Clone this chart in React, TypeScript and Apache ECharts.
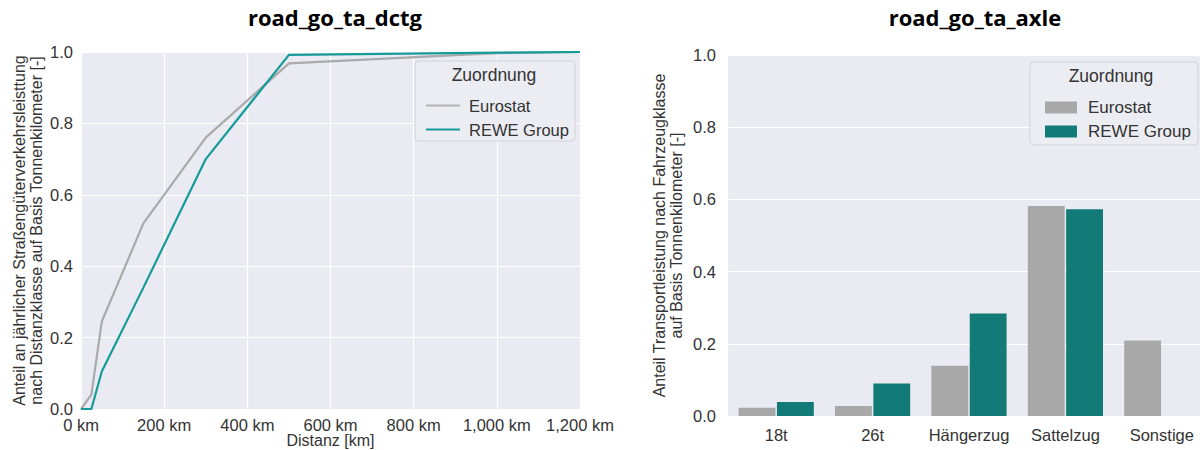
import React, { useEffect, useRef } from "react";
import * as echarts from "echarts";

const distanceKm = [0, 25, 50, 150, 300, 500, 1000, 1200];
const eurostatCum = [0, 0.04, 0.245, 0.52, 0.76, 0.968, 0.997, 1.0];
const reweCum = [0, 0, 0.105, 0.34, 0.7, 0.992, 0.998, 1.0];

const vehicleClasses = ["18t", "26t", "Hängerzug", "Sattelzug", "Sonstige"];
const eurostatShare = [0.023, 0.028, 0.139, 0.582, 0.209];
const reweShare = [0.039, 0.09, 0.284, 0.573, 0];

const seriesNames = ["Eurostat", "REWE Group"];

const FONT = "Liberation Sans, Arial, sans-serif";
const TXT = "#333333";
const BG = "#EAEAF2";
const GRAY_LINE = "#aaaaaa";
const TEAL_LINE = "#159b98";
const GRAY_BAR = "#a8a8a8";
const TEAL_BAR = "#137b77";

export default function App() {
  const ref = useRef<HTMLDivElement>(null);
  useEffect(() => {
    if (!ref.current) return;
    const chart = echarts.init(ref.current, undefined, { renderer: "svg" });
    const axisLabel = { color: TXT, fontSize: 16.5, fontFamily: FONT };
    const splitLine = { show: true, lineStyle: { color: "#ffffff", width: 1.2 } };
    const nameStyle = { color: TXT, fontSize: 16, fontFamily: FONT, lineHeight: 17, align: "center" };
    const titleStyle = { fontFamily: "Open Sans", fontWeight: "bold", fontSize: 22, color: "#000" };
    const legendText = { color: TXT, fontSize: 16.5, fontFamily: FONT, padding: [0, 0, 0, 4] };
    const option: any = {
      animation: false,
      backgroundColor: "#ffffff",
      title: [
        { text: "road_go_ta_dctg", left: 330, top: 1, textAlign: "center", textStyle: titleStyle },
        { text: "road_go_ta_axle", left: 970, top: 1, textAlign: "center", textStyle: titleStyle },
      ],
      grid: [
        {
          left: 81, top: 52, width: 499, height: 357, show: true, backgroundColor: BG, borderWidth: 0,
          outerBoundsMode: "none", containLabel: false,
        },
        {
          left: 728, top: 55, width: 482, height: 361, show: true, backgroundColor: BG, borderWidth: 0,
          outerBoundsMode: "none", containLabel: false,
        },
      ],
      xAxis: [
        {
          type: "value",
          gridIndex: 0,
          min: 0,
          max: 1200,
          interval: 200,
          axisLine: { show: false },
          axisTick: { show: false },
          splitLine,
          axisLabel: {
            ...axisLabel,
            margin: 7,
            showMinLabel: true,
            showMaxLabel: true,
            formatter: (v: number) => v.toLocaleString("en-US") + " km",
          },
          name: "Distanz [km]",
          nameLocation: "middle",
          nameGap: 23,
          nameMoveOverlap: false,
          nameTextStyle: nameStyle,
        },
        {
          type: "category",
          gridIndex: 1,
          data: vehicleClasses,
          axisLine: { show: false },
          axisTick: { show: false },
          splitLine: { show: false },
          axisLabel: { ...axisLabel, margin: 10, interval: 0 },
        },
      ],
      yAxis: [
        {
          type: "value",
          gridIndex: 0,
          min: 0,
          max: 1,
          interval: 0.2,
          axisLine: { show: false },
          axisTick: { show: false },
          splitLine,
          axisLabel: { ...axisLabel, margin: 8, formatter: (v: number) => v.toFixed(1) },
          name: "Anteil an jährlicher Straßengüterverkehrsleisttung\nnach Distanzklasse auf Basis Tonnenkilometer [-]",
          nameLocation: "middle",
          nameRotate: 90,
          nameGap: 36,
          nameMoveOverlap: false,
          nameTextStyle: nameStyle,
        },
        {
          type: "value",
          gridIndex: 1,
          min: 0,
          max: 1,
          interval: 0.2,
          axisLine: { show: false },
          axisTick: { show: false },
          splitLine,
          axisLabel: { ...axisLabel, margin: 12, formatter: (v: number) => v.toFixed(1) },
          name: "Anteil Transportleistung nach Fahrzeugklasse\nauf Basis Tonnenkilometer [-]",
          nameLocation: "middle",
          nameRotate: 90,
          nameGap: 43,
          nameMoveOverlap: false,
          nameTextStyle: nameStyle,
        },
      ],
      legend: [
        {
          orient: "vertical",
          left: 421,
          top: 92,
          itemWidth: 34,
          itemHeight: 2,
          itemGap: 7,
          textStyle: legendText,
          data: [
            { name: seriesNames[0], icon: "rect", itemStyle: { color: "#b4b4b4" } },
            { name: seriesNames[1], icon: "rect", itemStyle: { color: TEAL_LINE } },
          ],
        },
        {
          orient: "vertical",
          left: 1040,
          top: 94,
          itemWidth: 32,
          itemHeight: 12,
          itemGap: 7,
          textStyle: { ...legendText, fontSize: 17, padding: [0, 0, 0, 6] },
          data: [
            { name: seriesNames[0], icon: "rect", itemStyle: { color: GRAY_BAR } },
            { name: seriesNames[1], icon: "rect", itemStyle: { color: TEAL_BAR } },
          ],
        },
      ],
      graphic: [
        {
          type: "rect",
          shape: { x: 415, y: 61, width: 160, height: 80, r: 4 },
          style: { fill: "#ececf3", stroke: "#d2d2da", lineWidth: 1 },
          z: 1,
        },
        {
          type: "text",
          x: 494,
          y: 66,
          style: { text: "Zuordnung", fill: TXT, fontSize: 17.5, fontFamily: FONT, textAlign: "center" },
          z: 2,
        },
        {
          type: "rect",
          shape: { x: 1030, y: 62, width: 168, height: 83, r: 4 },
          style: { fill: "#ececf3", stroke: "#d2d2da", lineWidth: 1 },
          z: 1,
        },
        {
          type: "text",
          x: 1111,
          y: 67,
          style: { text: "Zuordnung", fill: TXT, fontSize: 17.5, fontFamily: FONT, textAlign: "center" },
          z: 2,
        },
      ],
      series: [
        {
          name: seriesNames[0],
          type: "line",
          xAxisIndex: 0,
          yAxisIndex: 0,
          showSymbol: false,
          symbol: "none",
          lineStyle: { color: GRAY_LINE, width: 2.2 },
          itemStyle: { color: GRAY_LINE },
          data: distanceKm.map((d, i) => [d, eurostatCum[i]]),
          z: 3,
        },
        {
          name: seriesNames[1],
          type: "line",
          xAxisIndex: 0,
          yAxisIndex: 0,
          showSymbol: false,
          symbol: "none",
          lineStyle: { color: TEAL_LINE, width: 2.2 },
          itemStyle: { color: TEAL_LINE },
          data: distanceKm.map((d, i) => [d, reweCum[i]]),
          z: 3,
        },
        {
          name: seriesNames[0],
          type: "bar",
          xAxisIndex: 1,
          yAxisIndex: 1,
          barCategoryGap: "22%",
          barGap: "4%",
          itemStyle: { color: GRAY_BAR },
          data: eurostatShare,
        },
        {
          name: seriesNames[1],
          type: "bar",
          xAxisIndex: 1,
          yAxisIndex: 1,
          barCategoryGap: "22%",
          barGap: "4%",
          itemStyle: { color: TEAL_BAR },
          data: reweShare,
        },
      ],
    };
    chart.setOption(option);
    return () => chart.dispose();
  }, []);
  return (
    <div
      ref={ref}
      style={{ position: "fixed", left: 0, top: 0, width: 1200, height: 450, background: "#fff" }}
    />
  );
}
